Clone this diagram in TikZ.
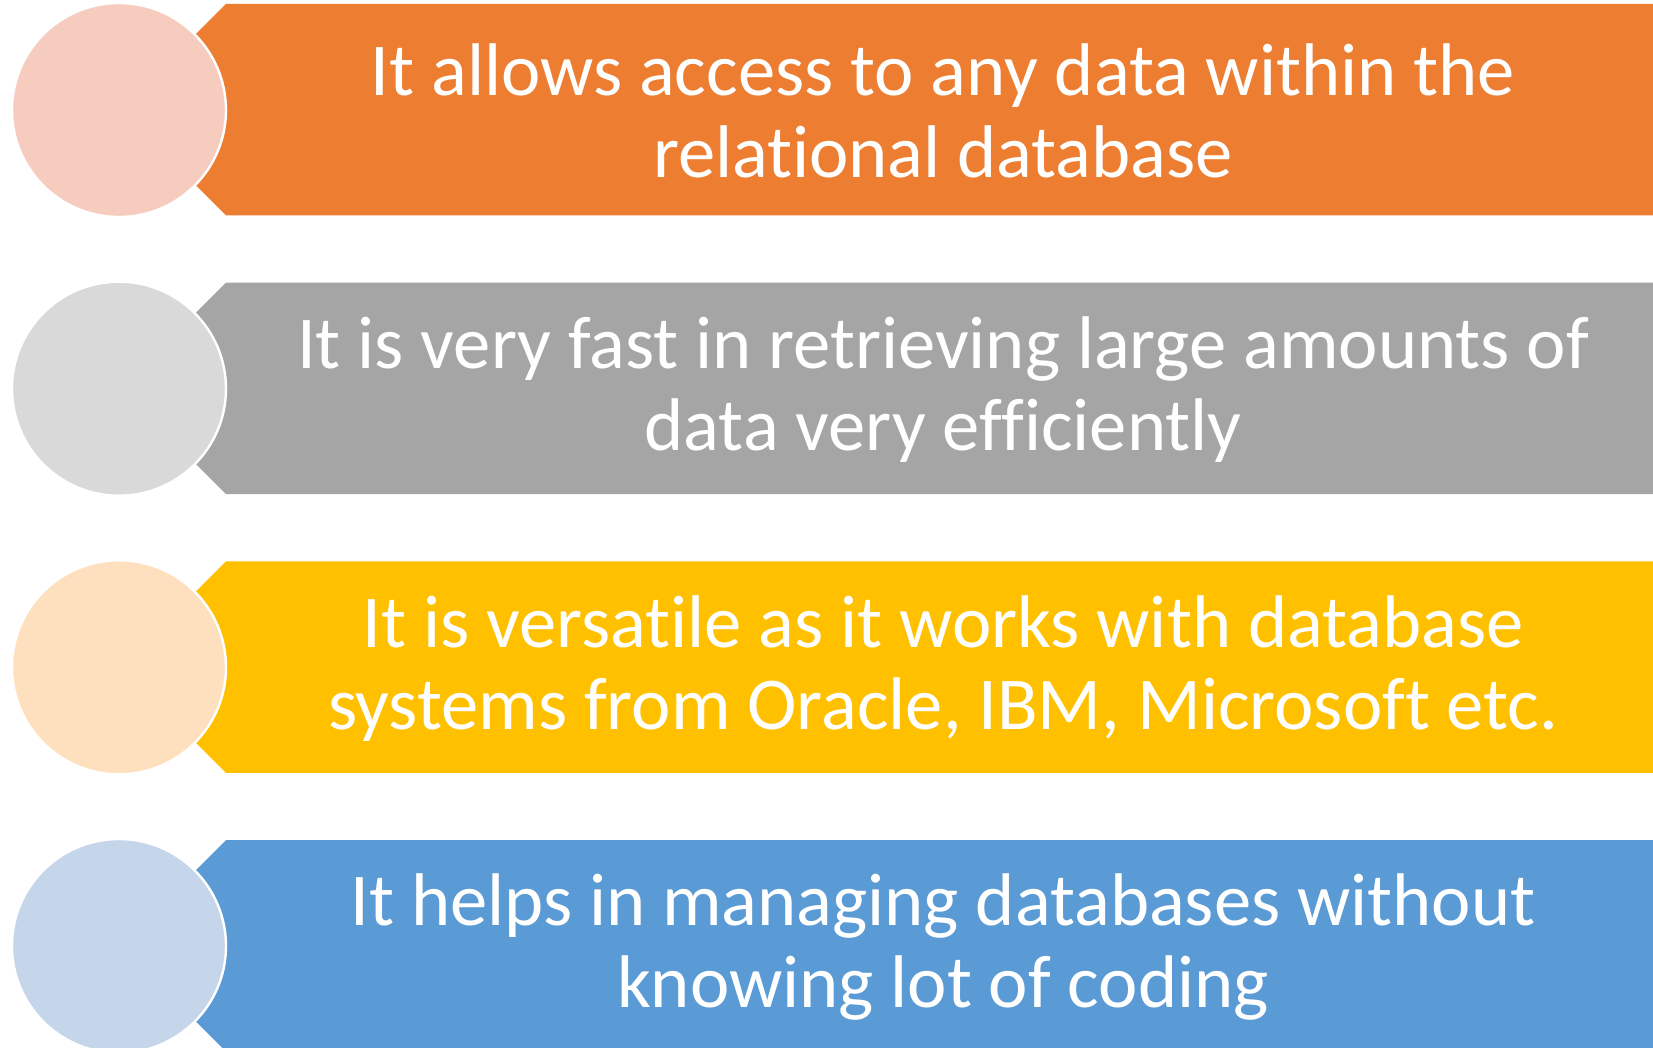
\documentclass[tikz,border=0pt]{standalone}
\usepackage{fontspec}
\setmainfont{Carlito}[Ligatures=NoCommon]
\definecolor{orangeBar}{HTML}{ED7D31}
\definecolor{orangeDot}{HTML}{F6CCBF}
\definecolor{grayBar}{HTML}{A5A5A5}
\definecolor{grayDot}{HTML}{D9D9D9}
\definecolor{goldBar}{HTML}{FFC000}
\definecolor{goldDot}{HTML}{FEE0BF}
\definecolor{blueBar}{HTML}{5B9BD5}
\definecolor{blueDot}{HTML}{C5D5EA}
\tikzset{
  dot/.style={circle, draw=white, line width=1.2pt, inner sep=0pt, minimum size=107pt},
  point/.style={text=white, align=center, font=\fontsize{37.3}{41}\selectfont}
}

\begin{document}
\begin{tikzpicture}[x=0.5pt,y=-0.5pt]
    \useasboundingbox (0,0) rectangle (1653,1048);
    \clip (0,0) rectangle (1653,1048);

% banners, each with a notch where its circle sits
\fill[orangeBar] (226,4) -- (1653,4) -- (1653,215.5) -- (226,215.5) -- (196,185.5) -- (196,34) -- cycle;
\fill[grayBar] (226,282.7) -- (1653,282.7) -- (1653,494.2) -- (226,494.2) -- (196,464.2) -- (196,312.7) -- cycle;
\fill[goldBar] (226,561.3) -- (1653,561.3) -- (1653,772.8) -- (226,772.8) -- (196,742.8) -- (196,591.3) -- cycle;
\fill[blueBar] (226,840) -- (1653,840) -- (1653,1051.5) -- (226,1051.5) -- (196,1021.5) -- (196,870) -- cycle;

% circles
\node[dot, fill=orangeDot] (dotA) at (119,110) {};
\node[dot, fill=grayDot] (dotB) at (119,388.7) {};
\node[dot, fill=goldDot] (dotC) at (119,667.3) {};
\node[dot, fill=blueDot] (dotD) at (119,946) {};

% texts
\node[point] (textA) at (943,111) {It allows access to any data within the\\relational database};
\node[point] (textB) at (943,390) {It is very fast in retrieving large amounts of\\data very efficiently};
\node[point] (textC) at (943,668.5) {It is versatile as it works with database\\systems from Oracle, IBM, Microsoft etc.};
\node[point] (textD) at (943,947.5) {It helps in managing databases without\\knowing lot of coding};

\end{tikzpicture}
\end{document}
